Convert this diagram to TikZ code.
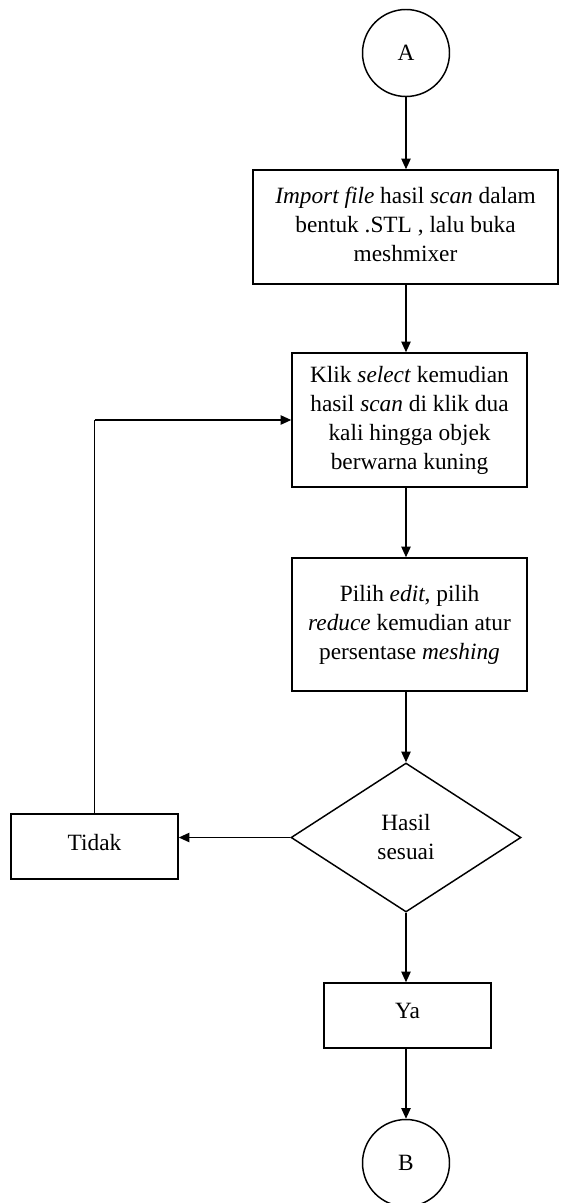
\documentclass[tikz,border=0pt]{standalone}
\usepackage{fontspec}
\setmainfont{Liberation Serif}
\usetikzlibrary{shapes.geometric,arrows.meta}
\begin{document}
\begin{tikzpicture}[x=0.75pt,y=-0.75pt,
  every node/.style={font=\fontsize{17.5pt}{21.75pt}\selectfont, align=center, line width=1.1pt},
  conn/.style={draw, line width=1.1pt, circle, inner sep=0pt, minimum size=0.75*87pt},
  procbox/.style={draw, rectangle, inner sep=0pt},
  decbox/.style={draw, diamond, inner sep=0pt, minimum width=0.75*230pt, minimum height=0.75*149pt},
  flow/.style={line width=1.1pt, -{Triangle[length=8pt,width=7pt]}},
  plain/.style={line width=1.1pt}]
\useasboundingbox (0,0) rectangle (564,1203);
\node[conn] (A) at (406,53) {A};
\node[procbox, minimum width=0.75*305pt, minimum height=0.75*114pt] (s1) at (405.5,227)
  {\raisebox{2pt}{\begin{tabular}{@{}c@{}}\textit{Import file} hasil \textit{scan} dalam\\ bentuk .STL , lalu buka\\ meshmixer\end{tabular}}};
\node[procbox, minimum width=0.75*235pt, minimum height=0.75*134pt] (s2) at (409.5,420)
  {Klik \textit{select} kemudian\\ hasil \textit{scan} di klik dua\\ kali hingga objek\\ berwarna kuning};
\node[procbox, minimum width=0.75*235pt, minimum height=0.75*133pt] (s3) at (409.5,624.5)
  {\raisebox{3pt}{\begin{tabular}{@{}c@{}}Pilih \textit{edit}, pilih\\ \textit{reduce} kemudian atur\\ persentase \textit{meshing}\end{tabular}}};
\node[decbox] (d) at (406,837.5) {Hasil\\ sesuai};
\node[procbox, minimum width=0.75*167pt, minimum height=0.75*65pt] (no) at (94.5,846.5) {\raisebox{6pt}{Tidak}};
\node[procbox, minimum width=0.75*167pt, minimum height=0.75*65pt] (yes) at (407.5,1015.5) {\raisebox{7pt}{Ya}};
\node[conn] (B) at (406,1163) {B};
\draw[flow] (A.south) -- (A.south |- s1.north);
\draw[flow] (A.south |- s1.south) -- (A.south |- s2.north);
\draw[flow] (A.south |- s2.south) -- (A.south |- s3.north);
\draw[flow] (A.south |- s3.south) -- (A.south |- d.north);
\draw[flow] (d.west) -- (d.west -| no.east);
\draw[plain] (no.north) -- (no.north |- s2.west);
\draw[flow] (no.north |- s2.west) -- (s2.west);
\draw[flow] (A.south |- d.south) -- (A.south |- yes.north);
\draw[flow] (A.south |- yes.south) -- (B.north);
\end{tikzpicture}
\end{document}
